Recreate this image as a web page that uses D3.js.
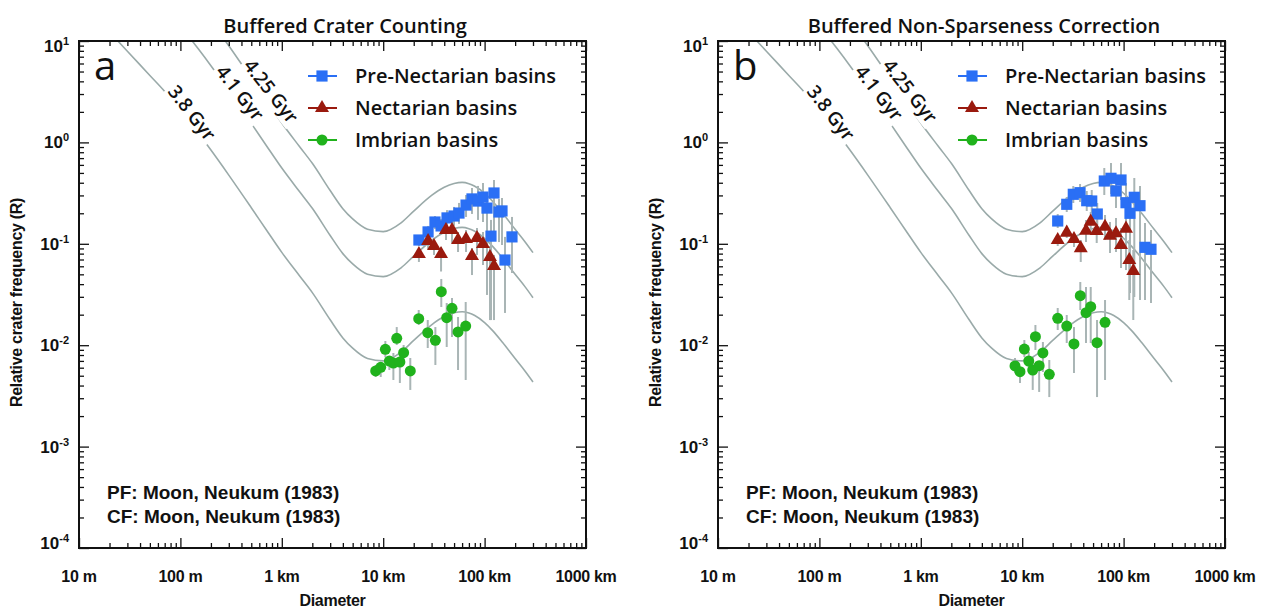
<!DOCTYPE html>
<html><head><meta charset="utf-8">
<script src="https://cdn.jsdelivr.net/npm/d3@7"></script>
<style>body{margin:0;background:#fff}</style>
</head><body><svg id="fig" width="1271" height="609"></svg>
<script>
// Isochrons (Neukum 1983 production function), R values at fixed diameters (km)
const isoDiam = [0.02,0.03,0.05,0.07,0.1,0.15,0.2,0.3,0.5,0.7,1,1.5,2,3,4,5,7,10,15,20,30,40,50,60,70,80,100,120,150,200,250,300];
const iso38  = [12.27,7.93,4.57,3.18,2.073,1.235,0.840,0.476,0.227,0.1384,0.0823,0.0481,0.0330,0.0178,0.0118,0.00935,0.00740,0.00700,0.00855,0.01115,0.01590,0.01915,0.02087,0.02140,0.02080,0.01960,0.0167,0.01393,0.01068,0.00738,0.00557,0.00434];
const iso41  = [83.2,53.8,31.0,21.6,14.06,8.37,5.70,3.23,1.539,0.938,0.558,0.326,0.224,0.1207,0.0800,0.0634,0.0502,0.0475,0.0580,0.0756,0.1078,0.1298,0.1415,0.1451,0.1410,0.1329,0.1132,0.0944,0.0724,0.0500,0.0378,0.0294];
const iso425 = [231,149,86.1,59.9,39.1,23.3,15.8,8.97,4.28,2.61,1.551,0.906,0.622,0.335,0.222,0.176,0.1394,0.1319,0.1611,0.210,0.300,0.361,0.393,0.403,0.392,0.369,0.315,0.262,0.201,0.139,0.1049,0.0818];
const isoNames = ["3.8 Gyr", "4.1 Gyr", "4.25 Gyr"];
// label anchor (diameter km, R) for each isochron name
const isoLabelD = [0.13, 0.387, 0.782];
const isoLabelR = [1.95, 3.07, 3.21];

// Panel a: buffered crater counting
const pnD_a  = [22.5,27.7,32.4,37.2,42.6,49.9,55.9,65.6,75.1,86.1,96.4,105.6,123.8,138.6,148.5,115.6,186.2,158.9];
const pnR_a  = [0.109,0.131,0.164,0.150,0.180,0.188,0.201,0.241,0.277,0.264,0.289,0.225,0.317,0.206,0.211,0.119,0.117,0.0692];
const pnHi_a = [0.122,0.150,0.188,0.176,0.215,0.231,0.253,0.303,0.355,0.372,0.398,0.296,0.426,0.277,0.283,0.172,0.184,0.117];
const pnLo_a = [0.0951,0.114,0.140,0.128,0.150,0.150,0.157,0.184,0.197,0.172,0.164,0.0313,0.119,0.104,0.0973,0.0177,0.0515,0.0208];

const nD_a  = [22.5,27.7,31.7,37.2,41.6,47.7,54.7,65.6,75.1,84.1,96.4,113,123.8];
const nR_a  = [0.0793,0.1066,0.0951,0.0793,0.1368,0.1368,0.109,0.1115,0.0758,0.114,0.0995,0.0741,0.0604];
const nHi_a = [0.0869,0.1194,0.109,0.093,0.164,0.1717,0.1307,0.1368,0.0909,0.1431,0.1307,0.0951,0.0776];
const nLo_a = [0.0662,0.0889,0.0776,0.0533,0.109,0.1018,0.083,0.083,0.0492,0.0776,0.0618,0.0177,0.0177];

const imD_a  = [8.43,9.45,10.5,11.5,12.6,13.6,14.6,15.9,18.5,22.4,27.5,32.7,37.4,42.3,47.7,54.7,65.1];
const imR_a  = [0.00557,0.00605,0.00911,0.00698,0.00667,0.0117,0.00683,0.00843,0.00557,0.01826,0.01328,0.01117,0.0337,0.01867,0.02312,0.0135,0.01546];
const imHi_a = [0.00638,0.00683,0.0110,0.00765,0.00838,0.0151,0.00838,0.01005,0.00748,0.02224,0.01772,0.0151,0.045,0.02607,0.0292,0.01897,0.02667];
const imLo_a = [0.00486,0.00486,0.00765,0.00569,0.00454,0.01005,0.00424,0.00715,0.00362,0.01582,0.00938,0.00638,0.0238,0.0096,0.01205,0.00569,0.00454];

// Panel b: buffered non-sparseness correction
const pnD_b  = [22.4,27.5,31.9,37.2,43.3,48.5,55.0,64.5,75.1,84.1,94.3,105.6,115.6,127.5,145.1,162.6,186.2];
const pnR_b  = [0.1679,0.2452,0.3077,0.3192,0.266,0.2643,0.1967,0.4162,0.4426,0.3317,0.4258,0.2542,0.1999,0.2875,0.2375,0.0923,0.0883];
const pnHi_b = [0.1967,0.2893,0.3715,0.3888,0.3317,0.3393,0.2526,0.559,0.626,0.4771,0.626,0.3978,0.3098,0.4455,0.3715,0.1604,0.1368];
const pnLo_b = [0.1431,0.2059,0.2526,0.2584,0.2106,0.2012,0.1532,0.3030,0.3098,0.2255,0.2704,0.1532,0.0327,0.02987,0.0279,0.0279,0.02607];

const nD_b  = [22.4,27.5,32.4,37.8,42.6,47.4,54.3,65.6,73.4,84.1,94.3,105.6,113.8,124.6];
const nR_b  = [0.109,0.1287,0.1115,0.0903,0.1346,0.1652,0.1337,0.1474,0.1202,0.1269,0.0973,0.1409,0.0692,0.0539];
const nHi_b = [0.1194,0.1431,0.1278,0.109,0.1717,0.2059,0.1717,0.1923,0.164,0.1797,0.1431,0.2059,0.109,0.0869];
const nLo_b = [0.0951,0.114,0.093,0.0662,0.1042,0.1307,0.1018,0.109,0.0811,0.083,0.0577,0.0551,0.0279,0.01772];

const imD_b  = [8.49,9.51,10.5,11.6,12.7,13.5,14.7,16.0,18.5,22.4,27.5,32.4,37.4,42.6,47.4,54.7,65.6];
const imR_b  = [0.00624,0.00548,0.00917,0.00698,0.00569,0.01213,0.00628,0.00838,0.00516,0.01842,0.01546,0.01028,0.03077,0.02092,0.02397,0.01058,0.01682];
const imHi_b = [0.00748,0.0061,0.01125,0.00857,0.00765,0.01582,0.00683,0.01075,0.00715,0.02327,0.01985,0.0151,0.042,0.0375,0.0375,0.01772,0.0279];
const imLo_b = [0.00532,0.00424,0.00765,0.00544,0.00362,0.00897,0.00346,0.00544,0.00308,0.01412,0.01051,0.00532,0.02224,0.01051,0.01051,0.00308,0.00454];

const seriesNames = ["Pre-Nectarian basins", "Nectarian basins", "Imbrian basins"];
const seriesColors = ["#2a6ff5", "#9a1a0e", "#20b21c"];
const seriesSymbols = ["square", "triangle", "circle"];

const xTickValues = [0.01, 0.1, 1, 10, 100, 1000];
const xTickLabels = ["10 m", "100 m", "1 km", "10 km", "100 km", "1000 km"];
const yTickExps = [1, 0, -1, -2, -3, -4];

const panelTitles = ["Buffered Crater Counting", "Buffered Non-Sparseness Correction"];
const panelLetters = ["a", "b"];
const footnotes = ["PF: Moon, Neukum (1983)", "CF: Moon, Neukum (1983)"];

const svg = d3.select("#fig");
const W = 507, H = 507;
const curveColor = "#9aaaa9";
const errColor = "#a9b5b5";

function zip(D, R, Lo, Hi) { return D.map((d, i) => ({d, r: R[i], lo: Lo[i], hi: Hi[i]})); }

const panels = [
  {left: 79, top: 41, legendShift: 0, series: [zip(pnD_a,pnR_a,pnLo_a,pnHi_a), zip(nD_a,nR_a,nLo_a,nHi_a), zip(imD_a,imR_a,imLo_a,imHi_a)]},
  {left: 718, top: 41, legendShift: 11, series: [zip(pnD_b,pnR_b,pnLo_b,pnHi_b), zip(nD_b,nR_b,nLo_b,nHi_b), zip(imD_b,imR_b,imLo_b,imHi_b)]}
];

function minorTicks(lo, hi) {
  const out = [];
  for (let e = lo; e < hi; e++) for (let k = 2; k <= 9; k++) out.push(k * Math.pow(10, e));
  return out;
}

function symbolPath(kind) {
  if (kind === "square") return d3.symbol(d3.symbolSquare, 125)();
  if (kind === "triangle") return d3.symbol(d3.symbolTriangle, 85)();
  return d3.symbol(d3.symbolCircle, 95)();
}

panels.forEach((p, pi) => {
  const g = svg.append("g").attr("transform", `translate(${p.left},${p.top})`);
  const x = d3.scaleLog().domain([0.01, 1000]).range([0, W]);
  const y = d3.scaleLog().domain([1e-4, 10]).range([H, 0]);

  const clipId = "clip" + pi;
  g.append("clipPath").attr("id", clipId).append("rect").attr("width", W).attr("height", H);
  const plot = g.append("g").attr("clip-path", `url(#${clipId})`);

  // isochrons
  const line = d3.line().x(d => x(d[0])).y(d => y(d[1])).curve(d3.curveMonotoneX);
  [iso38, iso41, iso425].forEach(vals => {
    plot.append("path").datum(isoDiam.map((d, i) => [d, vals[i]]))
      .attr("d", line).attr("fill", "none").attr("stroke", curveColor).attr("stroke-width", 1.6);
  });

  // isochron labels on a white backing
  isoNames.forEach((name, i) => {
    const lg = plot.append("g")
      .attr("transform", `translate(${x(isoLabelD[i])},${y(isoLabelR[i])}) rotate(52)`);
    const t = lg.append("text").text(name)
      .attr("text-anchor", "middle").attr("dy", "0.35em")
      .attr("font-family", "Open Sans").attr("font-weight", 600).attr("font-size", 19)
      .attr("fill", "#111");
    const bb = t.node().getBBox();
    lg.insert("rect", "text").attr("x", bb.x - 2).attr("y", bb.y + 1).attr("width", bb.width + 4)
      .attr("height", bb.height - 2).attr("fill", "#fff");
  });

  // error bars then markers
  p.series.forEach(s => {
    plot.append("g").selectAll("line").data(s).join("line")
      .attr("x1", d => x(d.d)).attr("x2", d => x(d.d))
      .attr("y1", d => y(d.hi)).attr("y2", d => y(d.lo))
      .attr("stroke", errColor).attr("stroke-width", 2);
  });
  p.series.forEach((s, si) => {
    plot.append("g").selectAll("path").data(s).join("path")
      .attr("transform", d => `translate(${x(d.d)},${y(d.r)})`)
      .attr("d", symbolPath(seriesSymbols[si]))
      .attr("fill", seriesColors[si]);
  });

  // ticks on all four sides, pointing inward
  const minorX = minorTicks(-2, 3);
  const majorY = yTickExps.map(e => Math.pow(10, e));
  const minorY = minorTicks(-4, 1);
  const tickStyle = sel => { sel.select(".domain").remove(); sel.selectAll("line").attr("stroke", "#111").attr("stroke-width", 1.3); sel.selectAll("text").remove(); };
  g.append("g").attr("transform", `translate(0,${H})`).call(d3.axisBottom(x).tickValues(xTickValues).tickSize(-10)).call(tickStyle);
  g.append("g").attr("transform", `translate(0,${H})`).call(d3.axisBottom(x).tickValues(minorX).tickSize(-5)).call(tickStyle);
  g.append("g").call(d3.axisTop(x).tickValues(xTickValues).tickSize(-10)).call(tickStyle);
  g.append("g").call(d3.axisTop(x).tickValues(minorX).tickSize(-5)).call(tickStyle);
  g.append("g").call(d3.axisLeft(y).tickValues(majorY).tickSize(-10)).call(tickStyle);
  g.append("g").call(d3.axisLeft(y).tickValues(minorY).tickSize(-5)).call(tickStyle);
  g.append("g").attr("transform", `translate(${W},0)`).call(d3.axisRight(y).tickValues(majorY).tickSize(-10)).call(tickStyle);
  g.append("g").attr("transform", `translate(${W},0)`).call(d3.axisRight(y).tickValues(minorY).tickSize(-5)).call(tickStyle);

  // frame
  g.append("rect").attr("width", W).attr("height", H).attr("fill", "none")
    .attr("stroke", "#111").attr("stroke-width", 2);

  // x tick labels
  g.append("g").selectAll("text").data(xTickValues).join("text")
    .attr("x", d => x(d)).attr("y", H + 34).attr("text-anchor", "middle")
    .attr("font-family", "Liberation Sans").attr("font-weight", 700).attr("font-size", 16)
    .attr("letter-spacing", "-0.3").attr("fill", "#111")
    .text((d, i) => xTickLabels[i]);

  // y tick labels: 10 with superscript exponent
  yTickExps.forEach((e, i) => {
    let yy = y(Math.pow(10, e));
    if (i === 0) yy += 5;
    if (i === yTickExps.length - 1) yy -= 5;
    const t = g.append("text").attr("x", -10).attr("y", yy + 6).attr("text-anchor", "end")
      .attr("font-family", "Liberation Sans").attr("font-weight", 700).attr("font-size", 17)
      .attr("fill", "#111");
    t.append("tspan").text("10");
    t.append("tspan").attr("dy", -7).attr("font-size", 11).text(String(e));
  });

  // axis titles
  g.append("text").attr("x", W / 2).attr("y", H + 58).attr("text-anchor", "middle")
    .attr("font-family", "Liberation Sans").attr("font-weight", 700).attr("font-size", 16)
    .attr("letter-spacing", "-0.3").attr("fill", "#111").text("Diameter");
  g.append("text").attr("transform", `translate(-57,${H / 2 + 8}) rotate(-90)`).attr("text-anchor", "middle")
    .attr("font-family", "Liberation Sans").attr("font-weight", 700).attr("font-size", 16)
    .attr("letter-spacing", "-0.3").attr("fill", "#111").text("Relative crater frequency (R)");

  // panel title and letter
  g.append("text").attr("x", 266).attr("y", -8).attr("text-anchor", "middle")
    .attr("font-family", "Open Sans").attr("font-weight", 600).attr("font-size", 20)
    .attr("fill", "#111").text(panelTitles[pi]);
  g.append("text").attr("x", 15).attr("y", 39)
    .attr("font-family", "Open Sans").attr("font-weight", 500).attr("font-size", 40)
    .attr("fill", "#111").text(panelLetters[pi]);

  // legend
  seriesNames.forEach((name, i) => {
    const ly = 35 + i * 32;
    const lg = g.append("g").attr("transform", `translate(${p.legendShift},${ly})`);
    lg.append("line").attr("x1", 229).attr("x2", 258).attr("stroke", seriesColors[i]).attr("stroke-width", 2);
    lg.append("path").attr("transform", "translate(243,0)").attr("d", symbolPath(seriesSymbols[i])).attr("fill", seriesColors[i]);
    lg.append("text").attr("x", 276).attr("y", 7).text(name)
      .attr("font-family", "Open Sans").attr("font-weight", 600).attr("font-size", 20).attr("fill", "#111");
  });

  // production / chronology function note
  footnotes.forEach((txt, i) => {
    g.append("text").attr("x", 28).attr("y", 458 + i * 24).text(txt)
      .attr("font-family", "Liberation Sans").attr("font-weight", 700).attr("font-size", 19)
      .attr("fill", "#111");
  });
});
</script>
</body></html>
